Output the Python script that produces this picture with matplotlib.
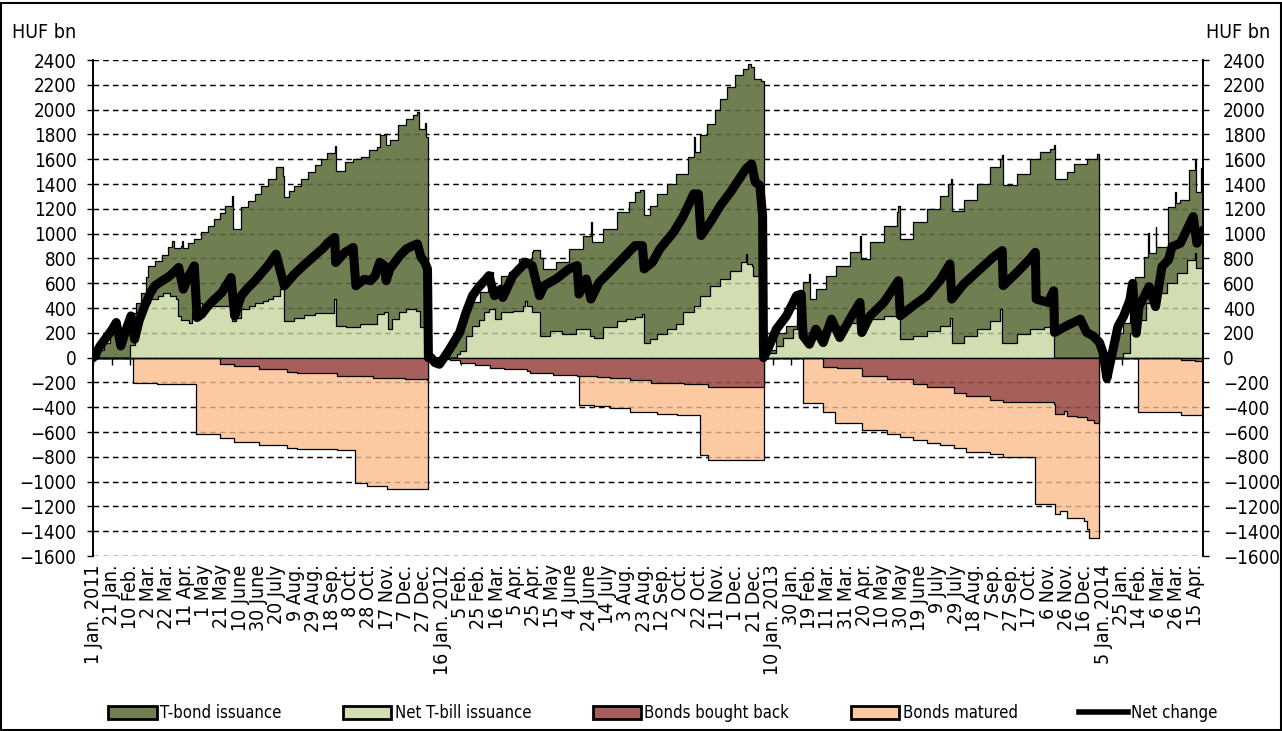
import pandas as pd
import matplotlib
matplotlib.use("Agg")
import matplotlib.pyplot as plt
from matplotlib.patches import Patch, Rectangle
from matplotlib.lines import Line2D

plt.rcParams['font.family'] = ['DejaVu Sans']
plt.rcParams['font.stretch'] = 'condensed'

start = pd.Timestamp('2011-01-01')
last_day = 1209  # 24 Apr 2014

# all x values are days counted from 1 Jan 2011, y values in HUF bn (year-to-date)

# upper edge of the issuance stack (T-bond + net T-bill)
issuance_day = [0, 6, 12, 18, 24, 28, 36, 42, 47, 52, 57, 60, 67, 75, 81, 86, 88, 96, 97, 98,
                103, 110, 117, 125, 132, 138, 143, 151, 152, 161, 168, 176, 183, 190, 199, 207,
                208, 213, 219, 226, 234, 241, 248, 255, 263, 264, 274, 283, 292, 300, 309, 312,
                317, 319, 323, 332, 341, 348, 353, 355, 361, 362, 365,
                376, 381, 388, 395, 399, 406, 410, 421, 430, 431, 435, 444, 453, 464, 478, 479,
                486, 490, 504, 518, 533, 542, 543, 555, 570, 584, 590, 596, 600, 606, 614, 625,
                635, 648, 654, 655, 661, 668, 677, 683, 690, 699, 708, 713, 716, 720, 727, 730,
                733, 744, 755, 766, 773, 780, 781, 787, 798, 809, 824, 835, 836, 846, 861, 875,
                877, 879, 893, 908, 922, 931, 934, 935, 948, 962, 977, 988, 990, 991, 1006, 1020,
                1031, 1042, 1046, 1047, 1060, 1068, 1082, 1093, 1095,
                1107, 1110, 1115, 1122, 1129, 1135, 1144, 1149, 1150, 1157, 1158, 1171, 1178,
                1179, 1184, 1193, 1200, 1201, 1206, 1209]
issuance_total = [0, 60, 120, 200, 290, 200, 260, 360, 444, 525, 650, 740, 780, 830, 888, 940, 880, 900, 942, 880,
                  928, 960, 1009, 1060, 1117, 1170, 1225, 1305, 1036, 1211, 1260, 1319, 1380, 1440, 1534, 1467,
                  1292, 1340, 1386, 1440, 1494, 1550, 1602, 1650, 1709, 1507, 1575, 1600, 1615, 1672, 1699, 1793,
                  1807, 1712, 1753, 1874, 1928, 1955, 1982, 1847, 1888, 1780, 0,
                  0, 20, 94, 180, 283, 380, 445, 526, 661, 690, 553, 661, 688, 796, 850, 865,
                  801, 715, 769, 876, 984, 1092, 930, 1038, 1173, 1254, 1335, 1348, 1146, 1226, 1321, 1402,
                  1482, 1617, 1779, 1658, 1792, 1887, 1995, 2089, 2180, 2280, 2330, 2370, 2340, 2250, 2230, 0,
                  60, 202, 256, 499, 606, 674, 472, 553, 660, 741, 849, 984, 795, 930, 1065, 1173,
                  1226, 957, 1092, 1199, 1307, 1402, 1442, 1186, 1267, 1402, 1536, 1604, 1631, 1388, 1482, 1604,
                  1658, 1685, 1712, 1442, 1496, 1563, 1604, 1644, 0,
                  0, 100, 196, 277, 411, 653, 814, 1002, 841, 1056, 895, 1217, 1338,
                  1244, 1271, 1513, 1593, 1338, 1526, 1526]

# net T-bill issuance
tbill_day = [0, 40, 45, 49, 53, 57, 62, 70, 76, 83, 90, 92, 96, 104, 108, 112, 118, 130, 145, 150,
             151, 155, 161, 170, 176, 185, 190, 196, 203, 208, 219, 230, 241, 258, 262, 264, 275,
             290, 306, 309, 317, 321, 325, 333, 341, 352, 356, 361, 365,
             396, 399, 406, 413, 420, 426, 431, 437, 444, 457, 468, 470, 472, 478, 486, 497, 511,
             526, 541, 545, 555, 570, 580, 590, 598, 600, 606, 614, 625, 635, 642, 654, 661, 672,
             683, 694, 705, 711, 712, 717, 718, 727, 730,
             733, 744, 751, 762, 766, 772, 776, 795, 809, 824, 838, 861, 877, 879, 893, 908, 922,
             933, 935, 948, 962, 977, 988, 990, 1006, 1020, 1035, 1042, 1046,
             1115, 1122, 1129, 1138, 1147, 1158, 1169, 1180, 1191, 1200, 1201, 1209]
tbill_value = [0, 100, 200, 330, 420, 444, 471, 500, 525, 500, 470, 336, 300, 283, 360, 444, 420, 417, 417, 380,
               296, 320, 390, 420, 444, 460, 471, 498, 552, 296, 323, 340, 363, 363, 471, 256, 250,
               270, 270, 351, 364, 229, 310, 364, 391, 378, 243, 351, 0,
               30, 54, 175, 256, 300, 364, 391, 310, 364, 378, 418, 458, 418, 364, 175, 216, 189,
               229, 175, 162, 243, 297, 310, 324, 351, 121, 148, 189, 229, 270, 364, 418, 499, 580,
               633, 701, 768, 836, 755, 741, 660, 391, 0,
               40, 94, 162, 229, 300, 250, 202, 229, 256, 283, 310, 337, 364, 148, 175, 216, 256,
               323, 121, 175, 229, 296, 391, 121, 189, 229, 243, 256, 0,
               0, 35, 196, 304, 438, 519, 599, 680, 788, 841, 720, 720]

# lower edge of bonds bought back
buyback_day = [0, 138, 153, 180, 211, 222, 265, 305, 340, 363, 365,
               372, 380, 389, 399, 416, 432, 447, 472, 476, 501, 527, 549, 563, 585, 607, 643, 669, 730,
               795, 810, 837, 864, 893, 908, 937, 951, 977, 991, 1046, 1048, 1057, 1061, 1071, 1082,
               1090, 1095, 1185, 1200, 1209]
buyback_value = [0, -48, -67, -94, -113, -126, -148, -161, -175, -183, 0,
                 -5, -15, -22, -40, -59, -81, -94, -108, -121, -140, -148, -156, -167, -183, -202, -215, -237, 0,
                 -75, -86, -148, -175, -215, -234, -282, -309, -344, -355, -376, -452, -430, -470, -478, -505,
                 -524, 0, -19, -24, -24]

# lower edge of bonds matured (stacked under the buybacks)
matured_day = [0, 43, 69, 112, 138, 153, 180, 211, 222, 265, 285, 298, 320, 345, 365,
               529, 545, 563, 585, 614, 636, 661, 670, 730,
               773, 795, 808, 837, 864, 879, 893, 908, 922, 937, 951, 977, 991, 1026, 1048, 1053,
               1061, 1071, 1079, 1082, 1084, 1095, 1138, 1185, 1209]
matured_value = [0, -202, -210, -613, -650, -677, -704, -726, -739, -747, -1008, -1035, -1056, -1060, 0,
                 -382, -390, -403, -435, -457, -462, -785, -828, 0,
                 -363, -435, -524, -586, -613, -640, -667, -685, -704, -731, -758, -780, -801, -1183, -1263, -1236,
                 -1290, -1296, -1317, -1384, -1457, 0, -436, -463, -463]

# net change
net_day = [0, 8, 14, 20, 25, 30, 36, 41, 45, 50, 56, 62, 67, 75, 81, 88, 93, 98, 104, 110, 113, 118,
           125, 132, 140, 150, 154, 161, 168, 176, 183, 190, 199, 208, 219, 230, 241, 250, 256, 263,
           264, 274, 283, 286, 295, 302, 307, 312, 317, 319, 323, 334, 341, 348, 353, 357, 361, 364, 365,
           368, 372, 377, 382, 388, 399, 406, 413, 420, 428, 431, 437, 444, 446, 457, 471, 478, 486,
           491, 504, 518, 527, 529, 537, 542, 551, 562, 576, 590, 598, 600, 609, 617, 632, 642, 654,
           659, 662, 672, 683, 694, 705, 711, 717, 721, 726, 729, 730,
           733, 744, 755, 766, 771, 773, 780, 787, 795, 804, 813, 824, 835, 837, 846, 861, 877, 879,
           893, 908, 922, 933, 935, 948, 966, 980, 990, 991, 1006, 1020, 1026, 1027, 1040, 1046, 1047,
           1060, 1075, 1082, 1089, 1096, 1100, 1104, 1109, 1116, 1122, 1129, 1132, 1136, 1139, 1150,
           1157, 1164, 1171, 1175, 1184, 1191, 1198, 1202, 1209]
net_value = [0, 100, 160, 220, 283, 94, 230, 336, 148, 300, 417, 520, 579, 620, 646, 690, 727, 552, 660, 740, 323, 350,
             417, 470, 525, 646, 336, 498, 560, 619, 680, 740, 834, 579, 673, 750, 821, 880, 929, 969,
             767, 848, 888, 579, 632, 620, 661, 769, 742, 620, 715, 823, 876, 903, 917, 809, 769, 715, 0,
             0, -40, -54, 0, 67, 202, 364, 499, 570, 634, 661, 499, 553, 485, 661, 769, 742, 499,
             580, 634, 715, 742, 512, 634, 472, 607, 688, 796, 903, 903, 715, 769, 876, 1011, 1132, 1321,
             1320, 984, 1092, 1226, 1334, 1456, 1523, 1563, 1415, 1388, 1146, 0,
             40, 229, 337, 499, 512, 175, 108, 229, 121, 310, 162, 310, 445, 202, 337, 445, 620, 337,
             418, 499, 620, 755, 472, 593, 714, 809, 863, 580, 687, 795, 849, 472, 445, 539, 202,
             256, 310, 202, 175, 121, 35, -167, 8, 250, 331, 465, 599, 196, 411, 572,
             411, 734, 788, 895, 922, 1029, 1137, 922, 1029]

c_tbond = '#6f7f52'
c_tbill = '#d0deb1'
c_buyback = '#a65f5b'
c_matured = '#fbcaa2'

fig = plt.figure(figsize=(12.82, 7.31), dpi=100)
ax = fig.add_axes([93.3 / 1282, 175 / 731, 1110 / 1282, 496 / 731])

yticks = list(range(-1600, 2401, 200))
for y in yticks:
    ax.axhline(y, color='black', lw=1.0, ls=(0, (4, 3)), zorder=0.5)

edge = dict(edgecolor='black', linewidth=0.9, step='post')
ax.fill_between(issuance_day, 0, issuance_total, facecolor=c_tbond, zorder=1, **edge)
ax.fill_between(tbill_day, 0, tbill_value, facecolor=c_tbill, zorder=1.1, **edge)
ax.fill_between(matured_day, 0, matured_value, facecolor=c_matured, zorder=1, **edge)
ax.fill_between(buyback_day, 0, buyback_value, facecolor=c_buyback, zorder=1.1, **edge)

# gridlines show faintly through the filled areas
for y in yticks:
    ax.axhline(y, color='black', lw=1.0, ls=(0, (4, 3)), alpha=0.25, zorder=1.5)

ax.plot(net_day, net_value, color='black', lw=6.5, solid_joinstyle='round',
        solid_capstyle='round', zorder=3)

ax.set_xlim(0, last_day)
ax.set_ylim(-1600, 2400)
ax.set_yticks(yticks)
ax.tick_params(axis='y', direction='out', length=4, width=1, labelsize=13.5, pad=8)

# right-hand scale repeats the left one
ax_r = ax.twinx()
ax_r.set_ylim(ax.get_ylim())
ax_r.set_yticks(yticks)
ax_r.tick_params(axis='y', direction='out', length=4, width=1, labelsize=13.5, pad=10)

months = ['Jan.', 'Feb.', 'Mar.', 'Apr.', 'May', 'June', 'July', 'Aug.', 'Sep.', 'Oct.', 'Nov.', 'Dec.']
tick_days = list(range(0, last_day, 20))
tick_labels = []
prev_year = None
for d in tick_days:
    t = start + pd.Timedelta(days=d)
    lab = f"{t.day} {months[t.month - 1]}"
    if t.year != prev_year:
        lab += f" {t.year}"
    prev_year = t.year
    tick_labels.append(lab)
ax.set_xticks(tick_days)
ax.set_xticklabels(tick_labels, rotation=90, fontsize=14)
ax.tick_params(axis='x', length=0, pad=6)

for a in (ax, ax_r):
    for s in ['top', 'bottom']:
        a.spines[s].set_visible(False)
    for s in ['left', 'right']:
        a.spines[s].set_linewidth(1.2)

# horizontal axis sits at zero, ticks hanging down from it
zero_axis = ax.secondary_xaxis(1600 / 4000)
zero_axis.set_xticks(tick_days)
zero_axis.tick_params(axis='x', direction='out', length=5, width=1, labelbottom=False, labeltop=False)
zero_axis.spines['bottom'].set_linewidth(1.2)

fig.text(12 / 1282, 1 - 32 / 731, 'HUF bn', fontsize=14, ha='left', va='center')
fig.text(1270 / 1282, 1 - 32 / 731, 'HUF bn', fontsize=14, ha='right', va='center')

handles = [Patch(facecolor=c_tbond, edgecolor='black', lw=2),
           Patch(facecolor=c_tbill, edgecolor='black', lw=2),
           Patch(facecolor=c_buyback, edgecolor='black', lw=2),
           Patch(facecolor=c_matured, edgecolor='black', lw=2),
           Line2D([0], [0], color='black', lw=4)]
labels = ['T-bond issuance', 'Net T-bill issuance', 'Bonds bought back', 'Bonds matured', 'Net change']
fig.legend(handles, labels, loc='center', bbox_to_anchor=(0.517, 1 - 713 / 731), ncol=5,
           frameon=False, fontsize=12, handlelength=2.9, handleheight=0.8, handletextpad=0.2,
           columnspacing=3.7)

fig.patches.append(Rectangle((0.001, 0.001), 0.998, 0.995, transform=fig.transFigure,
                             fill=False, edgecolor='black', lw=1.5))

fig.savefig('out.png', dpi=100)
